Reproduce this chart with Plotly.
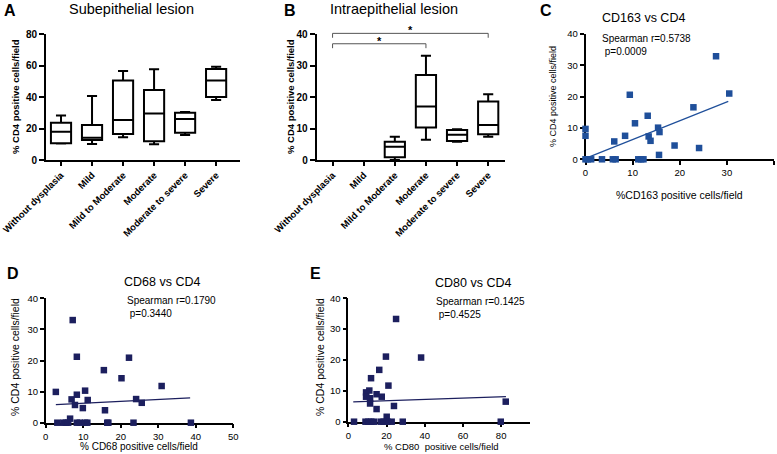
import plotly.graph_objects as go

W, H = 777, 454
FONT = "Liberation Sans, Arial, Helvetica, sans-serif"

# ---------------- data ----------------
categories = ["Without dysplasia", "Mild", "Mild to Moderate", "Moderate",
              "Moderate to severe", "Severe"]

# Panel A: Subepithelial lesion (box summaries, % CD4 positive cells/field)
A_low = [10.5, 10.2, 14.4, 10.0, 15.9, 38.1]
A_q1 = [10.6, 12.7, 16.5, 11.9, 17.3, 40.0]
A_median = [18.0, 14.2, 25.4, 29.6, 26.0, 50.4]
A_q3 = [23.7, 22.2, 50.4, 44.4, 30.0, 57.8]
A_high = [28.3, 40.6, 56.5, 57.6, 30.5, 59.2]

# Panel B: Intraepithelial lesion (no boxes for first two categories)
B_cats = ["Mild to Moderate", "Moderate", "Moderate to severe", "Severe"]
B_low = [0.0, 6.4, 5.8, 7.4]
B_q1 = [0.85, 10.3, 6.0, 8.2]
B_median = [4.2, 17.0, 8.0, 11.1]
B_q3 = [5.8, 27.0, 9.5, 18.6]
B_high = [7.4, 33.1, 9.8, 20.9]
B_sig_from = ["Without dysplasia", "Without dysplasia"]
B_sig_to = ["Severe", "Moderate"]
B_sig_y = [40.2, 36.9]
B_sig_label = ["*", "*"]

# Panel C: CD163 vs CD4
C_x = [0, 0, 6.1, 8.4, 9.4, 10.5, 13.2, 13.4, 13.8, 15.4, 15.7, 15.6, 18.9, 24.1,
       22.9, 27.7, 30.5, 0, 0.5, 1.2, 3.5, 5.8, 6.4, 11.2, 11.8, 12.3]
C_y = [9.7, 7.5, 5.7, 7.5, 20.6, 11.5, 13.9, 7.3, 5.9, 10.1, 8.7, 1.4, 4.4, 3.6,
       16.6, 32.9, 21.0, 0, 0, 0, 0, 0, 0, 0, 0, 0]
C_fit_x = [0.0, 30.3]
C_fit_y = [0.3, 18.5]
C_stats = ["Spearman r=0.5738", " p=0.0009"]

# Panel D: CD68 vs CD4
D_x = [2.7, 7.2, 8.3, 6.9, 8.3, 7.8, 9.9, 10.5, 11.2, 15.5, 15.8, 20.2, 22.2, 24.1,
       25.6, 30.9, 6.5, 3.1, 4.7, 5.4, 6.0, 8.3, 9.1, 10.5, 11.1, 16.4, 16.7, 23.4, 38.7]
D_y = [9.9, 33.0, 21.2, 7.5, 9.0, 5.7, 4.7, 10.3, 7.3, 16.9, 4.0, 14.3, 20.9, 7.6,
       6.4, 11.8, 1.3, 0, 0, 0, 0, 0, 0, 0, 0, 0, 0, 0, 0]
D_fit_x = [2.7, 38.5]
D_fit_y = [5.8, 8.0]
D_stats = ["Spearman r=0.1790", " p=0.3440"]

# Panel E: CD80 vs CD4
E_x = [25.0, 19.7, 38.1, 16.2, 11.9, 21.0, 11.0, 9.3, 9.3, 11.4, 11.4, 14.8, 17.5,
       14.8, 23.9, 20.1, 82.4, 3.0, 9.0, 10.5, 12.0, 13.5, 17.0, 18.5, 20.5, 22.7,
       28.5, 79.8]
E_y = [33.3, 21.1, 20.8, 16.8, 14.1, 11.7, 10.1, 9.5, 8.1, 7.6, 5.9, 8.9, 8.1,
       4.1, 5.1, 1.6, 6.5, 0, 0, 0, 0, 0, 0, 0, 0, 0, 0, 0]
E_fit_x = [2.6, 82.5]
E_fit_y = [6.4, 8.1]
E_stats = ["Spearman r=0.1425", " p=0.4525"]

# ---------------- helpers ----------------
def px(x):
    return x / W

def py(y):
    return 1 - y / H

idx = {c: i for i, c in enumerate(categories)}
BLUE = "#1f4f9a"
NAVY = "#1c1f5e"
B_YMAX = 40

fig = go.Figure()

# Panel A boxes
fig.add_trace(go.Box(
    x=[idx[c] for c in categories], q1=A_q1, median=A_median, q3=A_q3,
    lowerfence=A_low, upperfence=A_high, width=0.65, whiskerwidth=0.5,
    line=dict(color="black", width=2), fillcolor="white", boxpoints=False,
    xaxis="x", yaxis="y", showlegend=False, hoverinfo="skip"))

# Panel B boxes
fig.add_trace(go.Box(
    x=[idx[c] for c in B_cats], q1=B_q1, median=B_median, q3=B_q3,
    lowerfence=B_low, upperfence=B_high, width=0.65, whiskerwidth=0.5,
    line=dict(color="black", width=2), fillcolor="white", boxpoints=False,
    xaxis="x2", yaxis="y2", showlegend=False, hoverinfo="skip"))

# Scatter panels
for xs, ys, fx, fy, col, xa, ya in [
        (C_x, C_y, C_fit_x, C_fit_y, BLUE, "x3", "y3"),
        (D_x, D_y, D_fit_x, D_fit_y, NAVY, "x4", "y4"),
        (E_x, E_y, E_fit_x, E_fit_y, NAVY, "x5", "y5")]:
    fig.add_trace(go.Scatter(x=fx, y=fy, mode="lines",
                             line=dict(color=col, width=1.2),
                             xaxis=xa, yaxis=ya, showlegend=False))
    fig.add_trace(go.Scatter(x=xs, y=ys, mode="markers",
                             marker=dict(symbol="square", size=6.5, color=col),
                             cliponaxis=False,
                             xaxis=xa, yaxis=ya, showlegend=False))

# significance brackets in panel B (y in fraction of the B axis domain so they are not clipped)
shapes = []
annotations = []
for a, b, yv, lab in zip(B_sig_from, B_sig_to, B_sig_y, B_sig_label):
    x0, x1 = idx[a], idx[b]
    top = yv / B_YMAX
    foot = (yv - 1.4) / B_YMAX
    shapes.append(dict(type="path", xref="x2", yref="y2 domain",
                       path=f"M {x0},{foot} L {x0},{top} L {x1},{top} L {x1},{foot}",
                       line=dict(color="#555555", width=1)))
    annotations.append(dict(xref="x2", yref="y2 domain", x=(x0 + x1) / 2, y=top,
                            text=lab, showarrow=False, yanchor="bottom", yshift=-5,
                            font=dict(size=11, family=FONT, color="black", weight="bold")))

def txt(x, y, s, size, bold=False, xanchor="center", yanchor="middle", angle=0, align="center"):
    annotations.append(dict(xref="paper", yref="paper", x=px(x), y=py(y), text=s,
                            showarrow=False, xanchor=xanchor, yanchor=yanchor,
                            textangle=angle, align=align,
                            font=dict(size=size, family=FONT, color="black",
                                      weight="bold" if bold else "normal")))

# panel letters and titles
txt(2, 0, "A", 16, True, "left", "top")
txt(131, 9, "Subepithelial lesion", 14.5)
txt(282, 0, "B", 16, True, "left", "top")
txt(394, 9, "Intraepithelial lesion", 14.5)
txt(538, 0, "C", 16, True, "left", "top")
txt(643, 18, "CD163 vs CD4", 12.5)
txt(5, 263, "D", 16, True, "left", "top")
txt(162, 282, "CD68 vs CD4", 12.5)
txt(308, 263, "E", 16, True, "left", "top")
txt(473, 283, "CD80 vs CD4", 12.5)
txt(600, 31, "<br>".join(C_stats), 10, False, "left", "top", align="left")
txt(125, 293, "<br>".join(D_stats), 10, False, "left", "top", align="left")
txt(434, 294, "<br>".join(E_stats), 10, False, "left", "top", align="left")

# axis titles
txt(15, 97, "% CD4 positive cells/field", 9.5, True, angle=-90)
txt(290, 97, "% CD4 positive cells/field", 9.5, True, angle=-90)
txt(553, 97, "% CD4 positive cells/field", 9, False, angle=-90)
txt(679, 195, "%CD163 positive cells/field", 10.5)
txt(15, 357, "% CD4 positive cells/field", 10.5, False, angle=-90)
txt(139, 454, "% CD68 positive cells/field", 10, yanchor="bottom")
txt(320, 357, "% CD4 positive cells/field", 10.5, False, angle=-90)
txt(441, 454, "% CD80  positive cells/field", 9.5, yanchor="bottom")

bold_tick = dict(size=10, family=FONT, color="black", weight="bold")
cat_tick = dict(size=9.5, family=FONT, color="black", weight="bold")
reg_tick = dict(size=9.5, family=FONT, color="black")

common = dict(showgrid=False, zeroline=False, showline=True, linecolor="black",
              ticks="outside", tickcolor="black", automargin=False, fixedrange=True)

fig.update_layout(
    width=W, height=H, margin=dict(l=0, r=0, t=0, b=0),
    paper_bgcolor="white", plot_bgcolor="white",
    font=dict(family=FONT, color="black"),
    shapes=shapes, annotations=annotations, showlegend=False,
    xaxis=dict(domain=[px(46), px(240)], anchor="y", range=[-0.484, 5.77],
               tickvals=list(range(len(categories))), ticktext=categories,
               tickangle=-45, tickfont=cat_tick, linewidth=2, tickwidth=2, ticklen=4,
               **common),
    yaxis=dict(domain=[py(160), py(34)], anchor="x", range=[0, 80], dtick=20,
               tickfont=bold_tick, linewidth=2, tickwidth=2, ticklen=5, **common),
    xaxis2=dict(domain=[px(316.7), px(505)], anchor="y2", range=[-0.51, 5.54],
                tickvals=list(range(len(categories))), ticktext=categories,
                tickangle=-45, tickfont=cat_tick, linewidth=2, tickwidth=2, ticklen=4,
                **common),
    yaxis2=dict(domain=[py(160), py(34)], anchor="x2", range=[0, B_YMAX], dtick=10,
                tickfont=bold_tick, linewidth=2, tickwidth=2, ticklen=5, **common),
    xaxis3=dict(domain=[px(585.5), px(774)], anchor="y3", range=[0, 40], dtick=10,
                tickfont=reg_tick, linewidth=1.5, tickwidth=1.5, ticklen=4,
                layer="below traces", **common),
    yaxis3=dict(domain=[py(159.3), py(34)], anchor="x3", range=[0, 40], dtick=10,
                tickfont=reg_tick, linewidth=1.5, tickwidth=1.5, ticklen=4,
                layer="below traces", **common),
    xaxis4=dict(domain=[px(45.7), px(233.3)], anchor="y4", range=[0, 50], dtick=10,
                tickfont=reg_tick, linewidth=1.5, tickwidth=1.5, ticklen=4,
                layer="below traces", **common),
    yaxis4=dict(domain=[py(422.7), py(298.3)], anchor="x4", range=[0, 40], dtick=10,
                tickfont=reg_tick, linewidth=1.5, tickwidth=1.5, ticklen=4,
                layer="below traces", **common),
    xaxis5=dict(domain=[px(348.3), px(530)], anchor="y5", range=[0, 95.1],
                tickvals=[0, 20, 40, 60, 80],
                tickfont=reg_tick, linewidth=1.5, tickwidth=1.5, ticklen=4,
                layer="below traces", **common),
    yaxis5=dict(domain=[py(421.7), py(298.3)], anchor="x5", range=[0, 40], dtick=10,
                tickfont=reg_tick, linewidth=1.5, tickwidth=1.5, ticklen=4,
                layer="below traces", **common),
)

fig.write_html("out.html",
               config={"displayModeBar": False},
               post_script="document.body.style.margin='0';"
                           "document.body.style.overflow='hidden';")
